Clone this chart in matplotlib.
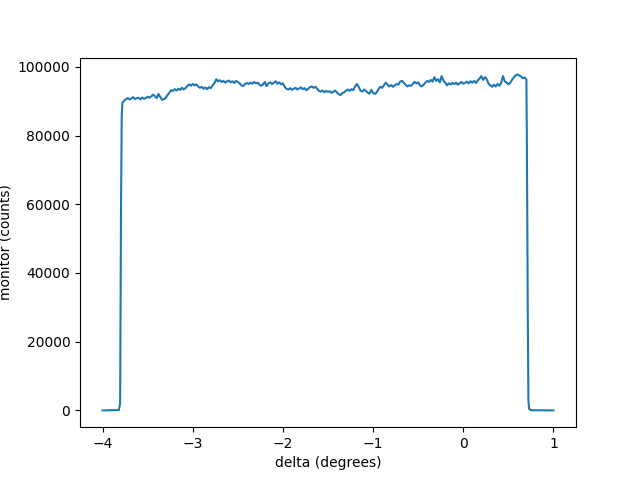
import numpy as np
import matplotlib
matplotlib.use("Agg")
import matplotlib.pyplot as plt

# rising edge
edge_lo_delta = [-4.0, -3.82, -3.805, -3.795, -3.787]
edge_lo_counts = [0, 100, 2000, 60000, 86000]

# plateau, counts in thousands, step 0.02 deg from -3.78 to 0.70
plateau_k = [
    89.5, 90.2, 90.6, 90.9, 90.5,
    90.8, 91.2, 90.6, 90.9, 91.0,
    90.5, 91.1, 90.7, 90.9, 91.3,
    91.0, 91.4, 91.9, 91.5, 90.9,
    92.1, 91.2, 90.4, 90.6, 90.9,
    91.8, 92.4, 93.2, 93.0, 93.5,
    93.1, 93.6, 93.3, 93.9, 93.4,
    93.8, 94.4, 94.9, 94.5, 95.0,
    94.6, 94.9, 94.3, 93.9, 94.2,
    93.6, 94.0, 93.5, 94.1, 93.8,
    94.6, 95.2, 96.4, 95.8, 96.1,
    95.6, 95.9, 95.4, 95.8, 96.0,
    95.5, 95.8, 95.3, 95.9, 95.6,
    95.2, 94.6, 94.4, 95.0, 95.3,
    95.0, 95.4, 95.1, 95.6, 95.2,
    95.4, 94.8, 94.5, 94.9, 95.6,
    94.4, 95.2, 95.5, 95.0, 95.4,
    95.8, 95.1, 95.5, 94.9, 95.2,
    94.2, 93.6, 93.4, 93.8, 93.3,
    93.6, 93.9, 93.4, 93.7, 94.0,
    93.5, 93.8, 93.2, 93.6, 94.1,
    94.3, 93.9, 94.2, 93.6, 93.0,
    92.8, 93.1, 92.6, 93.0, 92.7,
    92.9, 92.4, 92.8, 93.1, 92.5,
    92.0, 91.8, 92.4, 92.6, 93.1,
    93.4, 93.0, 93.5, 93.2, 94.3,
    95.0, 94.2, 93.1, 92.8, 93.4,
    93.0, 92.5, 92.2, 93.3, 92.4,
    92.1, 92.6, 93.5, 94.2, 93.9,
    94.6, 95.4, 94.8, 94.3, 94.7,
    94.2, 94.6, 95.0, 94.8, 95.7,
    95.9, 95.4, 94.8, 94.3, 94.6,
    94.5, 95.0, 95.6, 95.2, 95.5,
    94.6, 94.3, 94.8, 95.4, 95.9,
    95.6, 96.2, 95.7, 97.0, 95.9,
    96.4, 95.5, 97.3, 96.0, 95.4,
    94.6, 95.2, 94.9, 95.3, 95.0,
    95.4, 94.8, 95.2, 95.6, 95.1,
    95.3, 95.7, 95.2, 95.8, 95.4,
    95.9, 95.3, 96.0, 96.6, 97.3,
    96.2, 97.0, 96.4, 95.1, 94.6,
    94.2, 94.8, 94.3, 95.0, 94.5,
    95.3, 97.3, 95.8, 95.4, 94.9,
    95.3, 96.2, 96.9, 97.5, 97.8,
    97.5, 97.2, 96.7, 96.9, 96.3,
]
plateau_delta = np.linspace(-3.78, 0.70, len(plateau_k))

# falling edge
edge_hi_delta = [0.705, 0.715, 0.722, 0.73, 0.75, 1.0]
edge_hi_counts = [80000, 30000, 3000, 500, 50, 0]

delta = np.concatenate([edge_lo_delta, plateau_delta, edge_hi_delta])
monitor = np.concatenate([edge_lo_counts, np.array(plateau_k) * 1000, edge_hi_counts])

plt.figure(figsize=(6.4, 4.8), dpi=100)
plt.plot(delta, monitor)
plt.xlabel("delta (degrees)")
plt.ylabel("monitor (counts)")
plt.savefig("out.png")
